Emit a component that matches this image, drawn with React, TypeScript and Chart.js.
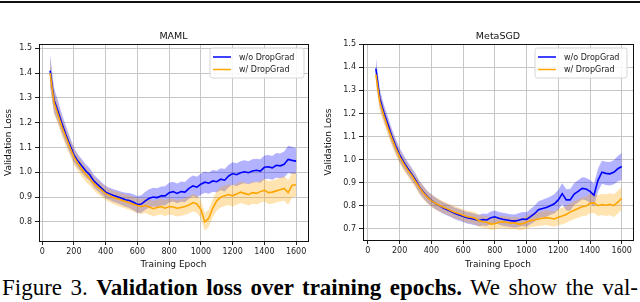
import React, { useEffect, useRef } from "react";
import { Chart, registerables } from "chart.js";

Chart.register(...registerables);

const FONT = '"DejaVu Sans", sans-serif';

const epochs = [
  50, 75, 100, 125, 150, 175, 200, 225, 250, 275,
  300, 325, 350, 375, 400, 425, 450, 475, 500, 525,
  550, 575, 600, 625, 650, 675, 700, 725, 750, 775,
  800, 825, 850, 875, 900, 925, 950, 975, 1000, 1025,
  1050, 1075, 1100, 1125, 1150, 1175, 1200, 1225, 1250, 1275,
  1300, 1325, 1350, 1375, 1400, 1425, 1450, 1475, 1500, 1525,
  1550, 1575, 1600,
];

const xTickValues = [0, 200, 400, 600, 800, 1000, 1200, 1400, 1600];
const mamlYTicks = [0.8, 0.9, 1.0, 1.1, 1.2, 1.3, 1.4, 1.5];
const metaYTicks = [0.7, 0.8, 0.9, 1.0, 1.1, 1.2, 1.3, 1.4, 1.5];

const seriesLabels = ["w/o DropGrad", "w/ DropGrad"];

// MAML
const mamlNoDrop = [
  1.41, 1.29, 1.245, 1.195, 1.15, 1.11, 1.07, 1.045, 1.025, 1.005,
  0.99, 0.965, 0.95, 0.935, 0.92, 0.913, 0.906, 0.901, 0.895, 0.889,
  0.886, 0.879, 0.87, 0.872, 0.885, 0.895, 0.9, 0.898, 0.905, 0.905,
  0.918, 0.922, 0.915, 0.922, 0.92, 0.935, 0.945, 0.94, 0.952, 0.96,
  0.956, 0.965, 0.962, 0.972, 0.968, 0.985, 0.995, 0.99, 0.998, 1.002,
  0.998, 1.005, 1.008, 1.005, 1.02, 1.022, 1.018, 1.028, 1.026, 1.032,
  1.052, 1.048, 1.045,
];
const mamlNoDropStd = [
  0.065, 0.05, 0.042, 0.038, 0.035, 0.032, 0.03, 0.028, 0.027, 0.026,
  0.026, 0.025, 0.025, 0.025, 0.025, 0.025, 0.026, 0.026, 0.027, 0.028,
  0.03, 0.032, 0.034, 0.035, 0.036, 0.037, 0.038, 0.038, 0.038, 0.039,
  0.04, 0.04, 0.04, 0.041, 0.041, 0.042, 0.042, 0.042, 0.043, 0.043,
  0.043, 0.044, 0.044, 0.044, 0.045, 0.045, 0.045, 0.046, 0.046, 0.046,
  0.046, 0.047, 0.047, 0.047, 0.048, 0.048, 0.048, 0.05, 0.05, 0.052,
  0.055, 0.055, 0.052,
];
const mamlDrop = [
  1.40, 1.28, 1.232, 1.182, 1.14, 1.10, 1.062, 1.036, 1.012, 0.992,
  0.975, 0.956, 0.94, 0.928, 0.914, 0.906, 0.898, 0.893, 0.887, 0.882,
  0.877, 0.871, 0.866, 0.862, 0.866, 0.86, 0.853, 0.858, 0.862, 0.855,
  0.862, 0.86, 0.855, 0.858, 0.862, 0.868, 0.878, 0.872, 0.85, 0.80,
  0.815, 0.856, 0.885, 0.9, 0.905, 0.91, 0.905, 0.912, 0.92, 0.915,
  0.91, 0.918, 0.915, 0.922, 0.928, 0.918, 0.92, 0.925, 0.93, 0.935,
  0.918, 0.948, 0.95,
];
const mamlDropStd = [
  0.055, 0.045, 0.04, 0.037, 0.035, 0.033, 0.032, 0.031, 0.03, 0.03,
  0.029, 0.028, 0.028, 0.027, 0.027, 0.027, 0.027, 0.028, 0.028, 0.028,
  0.029, 0.029, 0.03, 0.03, 0.03, 0.031, 0.031, 0.031, 0.032, 0.032,
  0.032, 0.033, 0.033, 0.033, 0.034, 0.034, 0.035, 0.035, 0.036, 0.036,
  0.035, 0.036, 0.04, 0.042, 0.042, 0.042, 0.043, 0.043, 0.044, 0.044,
  0.044, 0.045, 0.045, 0.045, 0.046, 0.046, 0.047, 0.047, 0.048, 0.05,
  0.05, 0.05, 0.048,
];

// MetaSGD
const metaNoDrop = [
  1.395, 1.265, 1.205, 1.155, 1.103, 1.06, 1.02, 0.99, 0.963, 0.938,
  0.912, 0.88, 0.858, 0.838, 0.823, 0.81, 0.8, 0.79, 0.782, 0.775,
  0.766, 0.76, 0.754, 0.748, 0.744, 0.74, 0.736, 0.74, 0.738, 0.748,
  0.752, 0.745, 0.741, 0.738, 0.735, 0.733, 0.737, 0.742, 0.74, 0.752,
  0.765, 0.782, 0.788, 0.792, 0.8, 0.808, 0.825, 0.852, 0.825, 0.825,
  0.85, 0.862, 0.875, 0.872, 0.862, 0.845, 0.91, 0.945, 0.94, 0.938,
  0.945, 0.96, 0.97,
];
const metaNoDropStd = [
  0.05, 0.04, 0.035, 0.033, 0.032, 0.03, 0.03, 0.029, 0.028, 0.028,
  0.028, 0.027, 0.027, 0.026, 0.026, 0.026, 0.025, 0.025, 0.025, 0.025,
  0.025, 0.025, 0.025, 0.025, 0.025, 0.025, 0.025, 0.026, 0.026, 0.027,
  0.027, 0.027, 0.028, 0.028, 0.028, 0.029, 0.03, 0.03, 0.031, 0.033,
  0.035, 0.037, 0.038, 0.04, 0.04, 0.042, 0.044, 0.045, 0.046, 0.047,
  0.047, 0.048, 0.048, 0.049, 0.049, 0.05, 0.05, 0.05, 0.05, 0.051,
  0.052, 0.055, 0.058,
];
const metaDrop = [
  1.37, 1.25, 1.192, 1.14, 1.093, 1.05, 1.012, 0.982, 0.955, 0.932,
  0.905, 0.878, 0.855, 0.836, 0.822, 0.81, 0.802, 0.793, 0.786, 0.778,
  0.77, 0.765, 0.758, 0.752, 0.75, 0.745, 0.735, 0.73, 0.728, 0.72,
  0.722, 0.728, 0.73, 0.728, 0.724, 0.726, 0.72, 0.722, 0.728, 0.735,
  0.738, 0.742, 0.745, 0.748, 0.745, 0.742, 0.75, 0.755, 0.762, 0.772,
  0.78, 0.788, 0.795, 0.798, 0.81, 0.812, 0.8, 0.805, 0.802, 0.806,
  0.8, 0.815, 0.832,
];
const metaDropStd = [
  0.045, 0.038, 0.034, 0.032, 0.031, 0.03, 0.03, 0.029, 0.028, 0.028,
  0.028, 0.028, 0.028, 0.027, 0.027, 0.027, 0.027, 0.026, 0.026, 0.026,
  0.026, 0.026, 0.026, 0.026, 0.026, 0.026, 0.026, 0.026, 0.026, 0.026,
  0.026, 0.026, 0.026, 0.026, 0.026, 0.027, 0.027, 0.027, 0.028, 0.028,
  0.029, 0.03, 0.031, 0.032, 0.033, 0.034, 0.035, 0.036, 0.037, 0.038,
  0.039, 0.04, 0.041, 0.042, 0.043, 0.044, 0.045, 0.046, 0.047, 0.048,
  0.049, 0.05, 0.05,
];

type PanelProps = {
  title: string;
  a: number[];
  aStd: number[];
  b: number[];
  bStd: number[];
  yTicks: number[];
  xMin: number;
  xMax: number;
  yMin: number;
  yMax: number;
  yAxisWidth: number;
  padRight: number;
  xAxisHeight: number;
  legendW: number;
  legendInset: number;
  left: number;
};

const W = 320;
const H = 270;

function Panel(p: PanelProps) {
  const ref = useRef<HTMLCanvasElement>(null);
  useEffect(() => {
    const pts = (m: number[], s: number[], k: number) =>
      epochs.map((e, i) => ({ x: e, y: m[i] + k * s[i] }));
    const clear = "rgba(0,0,0,0)";
    const band = (data: any, fill: any, color: string, order: number) => ({
      data,
      fill,
      backgroundColor: color,
      borderColor: clear,
      borderWidth: 0,
      pointRadius: 0,
      tension: 0,
      order,
    });
    const decor = {
      id: "decor",
      afterDraw(chart: any) {
        const ctx = chart.ctx;
        const ca = chart.chartArea;
        ctx.save();
        // frame
        ctx.strokeStyle = "#111";
        ctx.lineWidth = 1;
        const l = Math.round(ca.left - 0.5) + 0.5;
        const r = Math.round(ca.right - 0.5) + 0.5;
        const t = Math.round(ca.top - 0.5) + 0.5;
        const b = Math.round(ca.bottom - 0.5) + 0.5;
        ctx.strokeRect(l, t, r - l, b - t);
        // title
        ctx.fillStyle = "#111";
        ctx.textAlign = "center";
        ctx.textBaseline = "middle";
        ctx.font = `9.5px ${FONT}`;
        ctx.fillText(p.title, (ca.left + ca.right) / 2, 36.5);
        // axis titles
        ctx.font = `9px ${FONT}`;
        ctx.fillText("Training Epoch", (ca.left + ca.right) / 2, 264.5);
        ctx.save();
        ctx.translate(9, (ca.top + ca.bottom) / 2);
        ctx.rotate(-Math.PI / 2);
        ctx.fillText("Validation Loss", 0, 0);
        ctx.restore();
        // legend
        const bw = p.legendW;
        const bh = 30;
        const bx = ca.right - p.legendInset - bw;
        const by = ca.top + 4;
        ctx.beginPath();
        const rr = 2.5;
        ctx.moveTo(bx + rr, by);
        ctx.arcTo(bx + bw, by, bx + bw, by + bh, rr);
        ctx.arcTo(bx + bw, by + bh, bx, by + bh, rr);
        ctx.arcTo(bx, by + bh, bx, by, rr);
        ctx.arcTo(bx, by, bx + bw, by, rr);
        ctx.closePath();
        ctx.fillStyle = "rgba(255,255,255,0.85)";
        ctx.fill();
        ctx.strokeStyle = "#d6d6d6";
        ctx.lineWidth = 1;
        ctx.stroke();
        const colors = ["#0000ff", "#ffa500"];
        seriesLabels.forEach((lab, i) => {
          const yy = by + 9 + i * 12.5;
          ctx.beginPath();
          ctx.strokeStyle = colors[i];
          ctx.lineWidth = 1.5;
          ctx.moveTo(bx + 3, yy);
          ctx.lineTo(bx + 21, yy);
          ctx.stroke();
          ctx.fillStyle = "#222";
          ctx.textAlign = "left";
          ctx.textBaseline = "middle";
          ctx.font = `8px ${FONT}`;
          ctx.fillText(lab, bx + 29, yy + 0.5);
        });
        ctx.restore();
      },
    };
    const chart = new Chart(ref.current as HTMLCanvasElement, {
      type: "line",
      data: {
        datasets: [
          band(pts(p.a, p.aStd, 1), "+1", "rgba(0,0,255,0.3)", 6),
          band(pts(p.a, p.aStd, -1), false, clear, 5),
          band(pts(p.b, p.bStd, 1), "+1", "rgba(255,165,0,0.3)", 4),
          band(pts(p.b, p.bStd, -1), false, clear, 3),
          {
            data: pts(p.a, p.aStd, 0),
            borderColor: "#0000ff",
            borderWidth: 1.6,
            pointRadius: 0,
            fill: false,
            tension: 0,
            order: 2,
          },
          {
            data: pts(p.b, p.bStd, 0),
            borderColor: "#ffa500",
            borderWidth: 1.6,
            pointRadius: 0,
            fill: false,
            tension: 0,
            order: 1,
          },
        ] as any,
      },
      options: {
        animation: false,
        responsive: false,
        maintainAspectRatio: false,
        layout: { padding: { left: 0, top: 44, right: p.padRight, bottom: 0 } },
        plugins: {
          legend: { display: false },
          tooltip: { enabled: false },
          title: { display: false },
        },
        scales: {
          x: {
            type: "linear",
            min: p.xMin,
            max: p.xMax,
            afterFit: (s: any) => {
              s.height = p.xAxisHeight;
            },
            afterBuildTicks: (s: any) => {
              s.ticks = xTickValues.map((v) => ({ value: v }));
            },
            grid: {
              color: "#c6c6c6",
              lineWidth: 1,
              tickColor: "#222",
              tickLength: 4,
            },
            border: { display: false },
            ticks: {
              color: "#222",
              font: { size: 8, family: FONT },
              padding: 2,
              maxRotation: 0,
              autoSkip: false,
              callback: (v: any) => String(v),
            },
          },
          y: {
            type: "linear",
            min: p.yMin,
            max: p.yMax,
            afterFit: (s: any) => {
              s.width = p.yAxisWidth;
            },
            afterBuildTicks: (s: any) => {
              s.ticks = p.yTicks.map((v) => ({ value: v }));
            },
            grid: {
              color: "#c6c6c6",
              lineWidth: 1,
              tickColor: "#222",
              tickLength: 4,
            },
            border: { display: false },
            ticks: {
              color: "#222",
              font: { size: 8, family: FONT },
              padding: 3,
              autoSkip: false,
              callback: (v: any) => Number(v).toFixed(1),
            },
          },
        },
      } as any,
      plugins: [decor],
    });
    return () => chart.destroy();
  }, []);
  return (
    <canvas
      ref={ref}
      width={W}
      height={H}
      style={{ position: "absolute", left: p.left, top: 0, width: W, height: H }}
    />
  );
}

export default function App() {
  return (
    <div
      style={{
        position: "absolute",
        left: 0,
        top: 0,
        width: 640,
        height: 302,
        background: "#fff",
        overflow: "hidden",
      }}
    >
      <div
        style={{
          position: "absolute",
          left: 0,
          top: 1,
          width: 640,
          height: 2,
          background: "#111",
        }}
      />
      <Panel
        title="MAML"
        a={mamlNoDrop}
        aStd={mamlNoDropStd}
        b={mamlDrop}
        bStd={mamlDropStd}
        yTicks={mamlYTicks}
        xMin={-20}
        xMax={1675}
        yMin={0.723}
        yMax={1.517}
        yAxisWidth={39}
        padRight={12}
        xAxisHeight={29}
        legendW={94}
        legendInset={4}
        left={0}
      />
      <Panel
        title="MetaSGD"
        a={metaNoDrop}
        aStd={metaNoDropStd}
        b={metaDrop}
        bStd={metaDropStd}
        yTicks={metaYTicks}
        xMin={-31}
        xMax={1671}
        yMin={0.651}
        yMax={1.5013}
        yAxisWidth={43}
        padRight={7}
        xAxisHeight={30}
        legendW={92}
        legendInset={6}
        left={320}
      />
      <div
        style={{
          position: "absolute",
          left: 2,
          top: 276,
          width: 636,
          fontFamily: '"Liberation Serif", "Times New Roman", serif',
          fontSize: 23,
          lineHeight: "24px",
          whiteSpace: "nowrap",
          color: "#000",
          textAlign: "justify",
          textAlignLast: "justify" as any,
        }}
      >
        Figure 3. <b>Validation loss over training epochs.</b> We show the val-
      </div>
    </div>
  );
}
